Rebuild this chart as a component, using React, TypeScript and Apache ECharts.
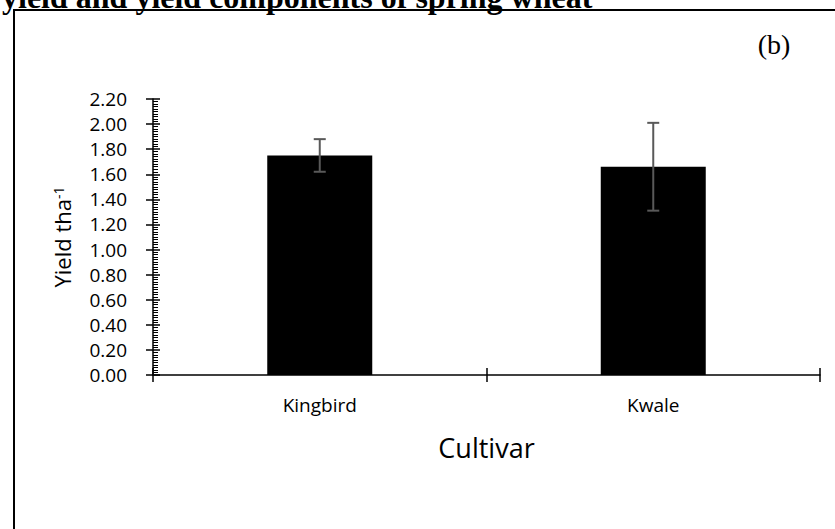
import React, { useEffect, useRef } from "react";
import * as echarts from "echarts";

const categories = ["Kingbird", "Kwale"];
const yieldMeans = [1.75, 1.66];
const yieldErrors = [0.13, 0.35];
const yTicks = { min: 0, max: 2.2, step: 0.2 };

const labelFont = "'Open Sans', 'Liberation Sans', sans-serif";
const serifFont = "'Liberation Serif', 'DejaVu Serif', serif";

export default function App() {
  const ref = useRef<HTMLDivElement>(null);

  useEffect(() => {
    document.body.style.margin = "0";
    if (!ref.current) return;
    const chart = echarts.init(ref.current, undefined, { renderer: "svg" });

    const errorData = categories.map((_, i) => [
      i,
      yieldMeans[i] - yieldErrors[i],
      yieldMeans[i] + yieldErrors[i],
    ]);

    const sharedY = {
      type: "value" as const,
      min: yTicks.min,
      max: yTicks.max,
      interval: yTicks.step,
      splitLine: { show: false },
    };

    chart.setOption({
      animation: false,
      backgroundColor: "#fff",
      grid: { left: 153, right: 15, top: 99, bottom: 154, containLabel: false },
      graphic: [
        {
          type: "rect",
          shape: { x: 14, y: 10, width: 900, height: 700 },
          style: { fill: "none", stroke: "#000", lineWidth: 2 },
          silent: true,
          z: 0,
        },
        {
          type: "text",
          x: 2,
          y: -3,
          style: {
            text: "yield and yield components of spring wheat",
            font: `bold 32px ${serifFont}`,
            fill: "#000",
            verticalAlign: "middle",
            align: "left",
          },
        },
        {
          type: "text",
          x: 774,
          y: 44,
          style: {
            text: "(b)",
            font: `28px ${serifFont}`,
            fill: "#000",
            align: "center",
            verticalAlign: "middle",
          },
        },
      ],
      xAxis: [
        {
          type: "category",
          data: categories,
          axisLine: { show: true, lineStyle: { color: "#000", width: 1.5 } },
          axisTick: { show: true, length: 7, lineStyle: { color: "#000", width: 1.5 } },
          axisLabel: { color: "#000", fontFamily: labelFont, fontSize: 19, margin: 20 },
          name: "Cultivar",
          nameLocation: "middle",
          nameGap: 59,
          nameTextStyle: { color: "#000", fontFamily: labelFont, fontSize: 27 },
        },
        {
          type: "category",
          data: categories,
          position: "bottom",
          axisLine: { show: false },
          axisTick: { show: true, inside: true, length: 7, lineStyle: { color: "#000", width: 1.5 } },
          axisLabel: { show: false },
        },
      ],
      yAxis: [
        {
          ...sharedY,
          axisLine: { show: true, lineStyle: { color: "#000", width: 1.5 } },
          axisTick: { show: true, length: 7, lineStyle: { color: "#000", width: 1.5 } },
          axisLabel: {
            color: "#000",
            fontFamily: labelFont,
            fontSize: 19,
            margin: 26,
            formatter: (v: number) => v.toFixed(2),
          },
          name: "{a|Yield tha}{s|-1}",
          nameLocation: "middle",
          nameGap: 80,
          nameTextStyle: {
            rich: {
              a: { color: "#000", fontFamily: labelFont, fontSize: 22 },
              s: { color: "#000", fontFamily: labelFont, fontSize: 14, verticalAlign: "top" },
            },
          },
        },
        {
          ...sharedY,
          position: "left",
          axisLine: { show: false },
          axisLabel: { show: false },
          axisTick: { show: true, inside: true, length: 7, lineStyle: { color: "#000", width: 1.5 } },
          minorTick: { show: true, splitNumber: 10, length: 5, lineStyle: { color: "#000", width: 1 } },
        },
      ],
      series: [
        {
          type: "bar",
          data: yieldMeans,
          barWidth: 105,
          itemStyle: { color: "#000" },
          xAxisIndex: 0,
          yAxisIndex: 0,
          z: 2,
        },
        {
          type: "custom",
          xAxisIndex: 0,
          yAxisIndex: 0,
          data: errorData,
          z: 5,
          renderItem: (params: any, api: any) => {
            const x = api.value(0);
            const lo = api.coord([x, api.value(1)]);
            const hi = api.coord([x, api.value(2)]);
            const cap = 6;
            const style = { stroke: "#595959", lineWidth: 2 };
            return {
              type: "group",
              children: [
                { type: "line", shape: { x1: lo[0], y1: lo[1], x2: hi[0], y2: hi[1] }, style },
                { type: "line", shape: { x1: lo[0] - cap, y1: lo[1], x2: lo[0] + cap, y2: lo[1] }, style },
                { type: "line", shape: { x1: hi[0] - cap, y1: hi[1], x2: hi[0] + cap, y2: hi[1] }, style },
              ],
            };
          },
        },
      ],
    });

    return () => chart.dispose();
  }, []);

  return <div ref={ref} style={{ width: 835, height: 529 }} />;
}
